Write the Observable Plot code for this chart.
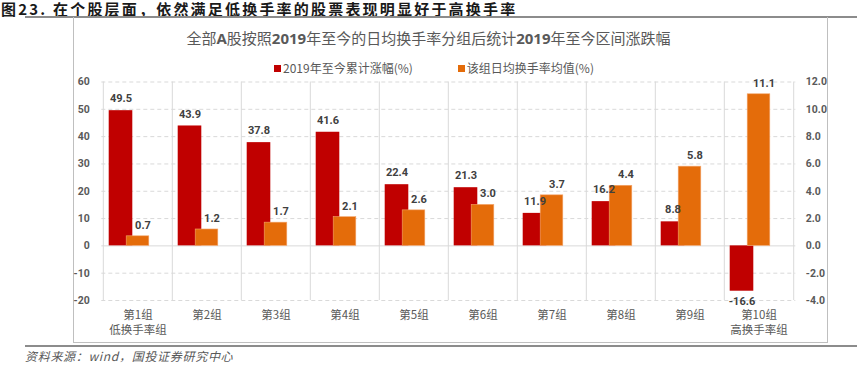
<!DOCTYPE html>
<html><head><meta charset="utf-8">
<script src="https://cdn.jsdelivr.net/npm/d3@7"></script>
<script src="https://cdn.jsdelivr.net/npm/@observablehq/plot@0.6"></script>
<style>
body{margin:0;background:#fff;width:857px;height:377px;position:relative;overflow:hidden;font-family:"Noto Sans CJK SC",sans-serif;}
#figtitle{position:absolute;left:1px;top:1px;font-size:15px;line-height:15px;font-weight:bold;color:#1a1a1a;letter-spacing:2.2px;white-space:nowrap;}
#rule1{position:absolute;left:25px;top:16px;width:832px;height:2px;background:#8c8c8c;}
#box{position:absolute;left:73px;top:17px;width:753px;height:325px;border:1px solid #bfbfbf;border-top:none;}
#ctitle{position:absolute;left:0;width:857px;top:28px;text-align:center;font-size:15px;line-height:20px;color:#595959;white-space:nowrap;}
#ctitle b{font-family:"Open Sans","Noto Sans CJK SC",sans-serif;}
#legend{position:absolute;top:59px;left:274px;font-size:12px;line-height:18px;color:#595959;white-space:nowrap;}
#legend span.sw{display:inline-block;width:7px;height:7px;margin-right:2px;vertical-align:1px;}
#legend span.it{margin-right:45px;}
#chart{position:absolute;left:0;top:70px;}
#rule2{position:absolute;left:25px;top:345px;width:832px;height:2px;background:#8c8c8c;}
#source{position:absolute;left:25px;top:347px;font-size:12px;line-height:18px;color:#595959;font-style:italic;letter-spacing:0.7px;white-space:nowrap;}
svg g[aria-label="y-axis tick label"] text{font-family:Roboto,sans-serif;font-size:10.5px;font-weight:bold;fill:#595959;}
svg g[aria-label="x-axis tick label"] text{font-family:"Noto Sans CJK SC",sans-serif;font-size:11.5px;fill:#595959;}
</style></head><body>
<div id="figtitle">图23. 在个股层面，依然满足低换手率的股票表现明显好于高换手率</div>
<div id="rule1"></div>
<div id="box"></div>
<div id="ctitle">全部<b>A</b>股按照<b>2019</b>年至今的日均换手率分组后统计<b>2019</b>年至今区间涨跌幅</div>
<div id="legend"><span class="it"><span class="sw" style="background:#c00000"></span>2019年至今累计涨幅(%)</span><span><span class="sw" style="background:#e46c0a"></span>该组日均换手率均值(%)</span></div>
<div id="chart"></div>
<div id="rule2"></div>
<div id="source">资料来源：wind，国投证券研究中心</div>
<script>
const groups = ["第1组","第2组","第3组","第4组","第5组","第6组","第7组","第8组","第9组","第10组"];
const groupSub = ["低换手率组","","","","","","","","","高换手率组"];
const returns = [49.5,43.9,37.8,41.6,22.4,21.3,11.9,16.2,8.8,-16.6];
const turnover = [0.7,1.2,1.7,2.1,2.6,3.0,3.7,4.4,5.8,11.1];
const leftTicks = [-20,-10,0,10,20,30,40,50,60];
const secondaryRatio = 5; // right axis = left axis / 5

const data = groups.map((g,i)=>({group:g, ret:returns[i], turn:turnover[i]}));
const W = 857, mL = 101.3, mR = 61.7;
const bw = (W - mL - mR) / groups.length;
const fullLabel = new Map(groups.map((g,i)=>[g, groupSub[i] ? g + "\n" + groupSub[i] : g]));
const grid = "#d9d9d9";
const lbl = {fontFamily:"Roboto,sans-serif", fontSize:11, fontWeight:"bold", fill:"#404040"};

const chart = Plot.plot({
  width: W, height: 272,
  marginTop: 11.5, marginBottom: 42, marginLeft: mL, marginRight: mR,
  x: {domain: groups, padding: 0, axis: null, label: null},
  y: {domain: [-20, 60], axis: null, label: null},
  marks: [
    Plot.ruleY(leftTicks.filter(t=>t!==0), {stroke: grid, strokeDasharray: "4,3"}),
    Plot.ruleX(groups, {x: d=>d, y1: -20, y2: 60, dx: -bw/2, stroke: grid}),
    Plot.ruleX(groups.slice(-1), {x: d=>d, y1: -20, y2: 60, dx: bw/2, stroke: grid}),
    Plot.ruleY([0], {stroke: grid}),
    Plot.barY(data, {x: "group", y: "ret", fill: "#c00000", insetLeft: bw/2 - 29, insetRight: bw/2 + 5}),
    Plot.barY(data, {x: "group", y: d=>d.turn*secondaryRatio, fill: "#e46c0a", stroke: "#f3a46a", strokeWidth: 0.6, insetLeft: bw/2 - 11.5, insetRight: bw/2 - 11.5}),
    Plot.text(data.filter(d=>d.ret>=0), {x: "group", y: "ret", text: d=>d.ret.toFixed(1), dx: -17, dy: -12, ...lbl}),
    Plot.text(data.filter(d=>d.ret<0), {x: "group", y: "ret", text: d=>d.ret.toFixed(1), dx: -17, dy: 10, ...lbl}),
    Plot.text(data, {x: "group", y: d=>d.turn*secondaryRatio, text: d=>d.turn.toFixed(1), dx: 5, dy: -11, ...lbl}),
    Plot.axisY(leftTicks, {anchor: "left", label: null, tickSize: 0, tickPadding: 12, tickFormat: d=>String(d)}),
    Plot.axisY(leftTicks, {anchor: "right", label: null, tickSize: 0, tickPadding: 10, textAnchor: "start", tickFormat: d=>(d/secondaryRatio).toFixed(1)}),
    Plot.axisX({label: null, tickSize: 0, tickPadding: 8, lineHeight: 1.3, tickFormat: d=>fullLabel.get(d)})
  ]
});
document.getElementById("chart").appendChild(chart);
</script>
</body></html>
